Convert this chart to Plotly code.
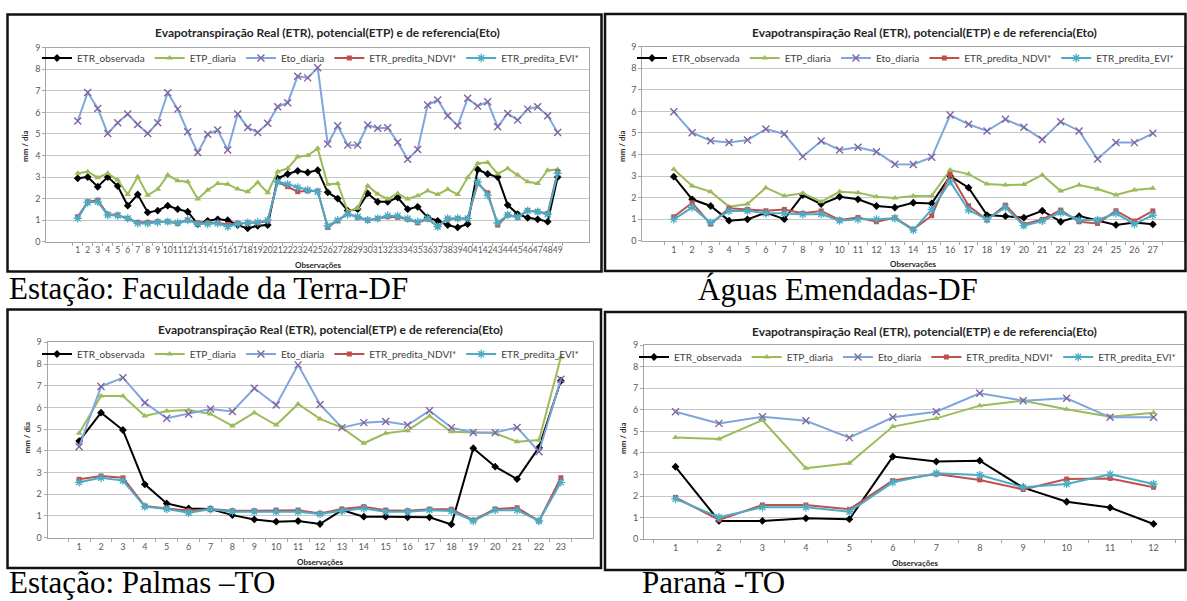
import plotly.graph_objects as go

# ---------------- data (mm/dia) ----------------
series_names = ["ETR_observada", "ETP_diaria", "Eto_diaria", "ETR_predita_NDVI*", "ETR_predita_EVI*"]

# Estação: Faculdade da Terra-DF (49 observações)
fdt_etr_obs = [2.94, 3.0, 2.55, 3.0, 2.58, 1.67, 2.19, 1.36, 1.44, 1.67, 1.51, 1.39, 0.82, 0.97, 1.04, 1.0, 0.77, 0.62, 0.74, 0.77,
               2.94, 3.14, 3.29, 3.21, 3.32, 2.29, 2.0, 1.44, 1.51, 2.24, 1.85, 1.85, 2.05, 1.51, 1.62, 1.13, 0.97, 0.77, 0.66, 0.82,
               3.35, 3.14, 3.0, 1.7, 1.28, 1.11, 1.04, 0.93, 3.0]
fdt_etp = [3.17, 3.25, 2.97, 3.17, 2.86, 2.19, 3.01, 2.16, 2.43, 3.09, 2.83, 2.78, 1.98, 2.40, 2.70, 2.67, 2.44, 2.32, 2.75, 2.27,
           3.25, 3.40, 3.94, 4.00, 4.33, 2.66, 2.70, 1.42, 1.55, 2.60, 2.21, 1.98, 2.24, 1.98, 2.13, 2.36, 2.19, 2.43, 2.19, 2.98,
           3.63, 3.68, 3.14, 3.40, 3.09, 2.78, 2.70, 3.32, 3.35]
fdt_eto = [5.60, 6.92, 6.18, 5.02, 5.52, 5.92, 5.44, 5.02, 5.52, 6.91, 6.15, 5.10, 4.14, 4.98, 5.18, 4.25, 5.92, 5.30, 5.07, 5.49,
           6.26, 6.45, 7.68, 7.60, 8.07, 4.53, 5.38, 4.48, 4.48, 5.41, 5.26, 5.29, 4.61, 3.82, 4.28, 6.34, 6.57, 5.84, 5.38, 6.65,
           6.29, 6.49, 5.33, 5.95, 5.64, 6.15, 6.26, 5.84, 5.07]
fdt_ndvi = [1.16, 1.85, 1.93, 1.27, 1.24, 1.08, 0.90, 0.90, 0.93, 0.93, 0.85, 1.0, 0.88, 0.88, 0.88, 0.80, 0.85, 0.88, 0.88, 0.96,
            2.78, 2.55, 2.32, 2.36, 2.35, 0.66, 0.97, 1.31, 1.13, 1.0, 1.07, 1.16, 1.13, 1.04, 0.88, 1.05, 0.70, 1.05, 1.08, 1.08,
            2.70, 2.27, 0.77, 1.24, 1.13, 1.44, 1.39, 1.31, 3.25]
fdt_evi = [1.08, 1.82, 1.85, 1.24, 1.21, 1.08, 0.85, 0.85, 0.90, 0.93, 0.88, 1.0, 0.82, 0.82, 0.85, 0.70, 0.82, 0.88, 0.90, 1.0,
           2.78, 2.67, 2.52, 2.40, 2.32, 0.73, 1.0, 1.27, 1.16, 1.0, 1.08, 1.21, 1.19, 1.07, 0.93, 1.08, 0.70, 1.08, 1.08, 1.08,
           2.78, 2.16, 0.88, 1.24, 1.16, 1.44, 1.39, 1.27, 3.17]

# Águas Emendadas-DF (27 observações)
ae_etr_obs = [2.97, 1.92, 1.61, 0.93, 0.99, 1.30, 1.0, 2.12, 1.70, 2.04, 1.92, 1.61, 1.54, 1.76, 1.73, 3.0, 2.46, 1.19, 1.14, 1.07,
              1.39, 0.88, 1.14, 0.93, 0.73, 0.84, 0.76]
ae_etp = [3.31, 2.54, 2.27, 1.58, 1.70, 2.46, 2.07, 2.20, 1.81, 2.27, 2.23, 2.04, 1.98, 2.07, 2.09, 3.28, 3.09, 2.63, 2.58, 2.61,
          3.05, 2.30, 2.58, 2.40, 2.12, 2.35, 2.43]
ae_eto = [5.98, 5.01, 4.64, 4.56, 4.67, 5.18, 4.95, 3.90, 4.62, 4.21, 4.33, 4.13, 3.55, 3.54, 3.87, 5.83, 5.40, 5.09, 5.63, 5.26,
          4.70, 5.52, 5.09, 3.79, 4.56, 4.55, 4.98]
ae_ndvi = [1.11, 1.76, 0.77, 1.50, 1.45, 1.39, 1.45, 1.27, 1.38, 0.96, 1.08, 0.88, 1.06, 0.53, 1.16, 3.09, 1.62, 0.96, 1.65, 0.76,
           0.99, 1.42, 0.88, 0.80, 1.39, 0.91, 1.38]
ae_evi = [0.99, 1.55, 0.84, 1.38, 1.39, 1.27, 1.27, 1.22, 1.24, 0.93, 0.99, 0.99, 1.04, 0.49, 1.45, 2.74, 1.42, 0.99, 1.55, 0.70,
          0.91, 1.31, 0.96, 0.96, 1.27, 0.77, 1.19]

# Estação: Palmas -TO (23 observações)
pal_etr_obs = [4.45, 5.76, 4.96, 2.46, 1.58, 1.35, 1.32, 1.04, 0.84, 0.74, 0.77, 0.63, 1.27, 0.97, 0.97, 0.94, 0.94, 0.61, 4.12, 3.27,
               2.70, 4.16, 7.23]
pal_etp = [4.81, 6.53, 6.53, 5.61, 5.84, 5.88, 5.70, 5.15, 5.76, 5.19, 6.16, 5.47, 5.07, 4.35, 4.81, 4.93, 5.61, 4.88, 4.85, 4.81,
           4.42, 4.50, 8.31]
pal_eto = [4.19, 6.96, 7.37, 6.22, 5.50, 5.70, 5.93, 5.81, 6.88, 6.11, 7.96, 6.14, 5.07, 5.30, 5.35, 5.19, 5.85, 5.07, 4.85, 4.84,
           5.08, 3.96, 7.30]
pal_ndvi = [2.69, 2.84, 2.76, 1.46, 1.35, 1.24, 1.32, 1.24, 1.24, 1.27, 1.27, 1.12, 1.32, 1.43, 1.27, 1.24, 1.31, 1.31, 0.81, 1.32,
            1.38, 0.77, 2.76]
pal_evi = [2.55, 2.76, 2.63, 1.43, 1.32, 1.15, 1.31, 1.20, 1.20, 1.20, 1.20, 1.09, 1.24, 1.35, 1.20, 1.20, 1.27, 1.23, 0.77, 1.27,
           1.27, 0.77, 2.55]

# Paranã -TO (12 observações)
par_etr_obs = [3.36, 0.85, 0.85, 0.97, 0.93, 3.83, 3.60, 3.64, 2.39, 1.74, 1.47, 0.71]
par_etp = [4.72, 4.65, 5.52, 3.29, 3.52, 5.22, 5.60, 6.19, 6.42, 6.02, 5.68, 5.86]
par_eto = [5.91, 5.37, 5.68, 5.49, 4.71, 5.65, 5.91, 6.76, 6.42, 6.53, 5.65, 5.65]
par_ndvi = [1.94, 0.90, 1.59, 1.59, 1.39, 2.72, 3.02, 2.75, 2.31, 2.79, 2.82, 2.41]
par_evi = [1.87, 1.02, 1.48, 1.48, 1.28, 2.64, 3.06, 2.98, 2.41, 2.56, 3.01, 2.56]

captions = ["Estação: Faculdade da Terra-DF", "Águas Emendadas-DF", "Estação: Palmas –TO", "Paranã -TO"]
chart_title = "Evapotranspiração Real (ETR), potencial(ETP) e de referencia(Eto)"

stations = [
    [fdt_etr_obs, fdt_etp, fdt_eto, fdt_ndvi, fdt_evi],
    [ae_etr_obs, ae_etp, ae_eto, ae_ndvi, ae_evi],
    [pal_etr_obs, pal_etp, pal_eto, pal_ndvi, pal_evi],
    [par_etr_obs, par_etp, par_eto, par_ndvi, par_evi],
]

# ---------------- styling ----------------
W, H = 1187, 601
FONT = "Lato"
SERIF = "Liberation Serif, Times New Roman, DejaVu Serif, serif"


def fx(p):
    return p / W


def fy(p):
    return 1 - p / H


line_styles = [
    dict(line=dict(color="#000000", width=2), marker=dict(symbol="diamond", size=6, color="#000000")),
    dict(line=dict(color="#9BBB59", width=2), marker=dict(symbol="triangle-up", size=6, color="#9BBB59")),
    dict(line=dict(color="#7EA6DC", width=2),
         marker=dict(symbol="x-thin-open", size=7, color="#8064A2", line=dict(color="#8064A2", width=1.4))),
    dict(line=dict(color="#C0504D", width=2), marker=dict(symbol="square", size=5, color="#C0504D")),
    dict(line=dict(color="#4BACC6", width=2),
         marker=dict(symbol="asterisk-open", size=7, color="#4BACC6", line=dict(color="#4BACC6", width=1.3))),
]

# panel geometry in pixels: plot area (x0, x1, y_top(=9), y_bottom(=0)), frame, title, legend, labels, caption
panels = [
    dict(plot=(46.2, 589.2, 47.7, 241.7), frame=(7.5, 601.5, 14.5, 271.5), title=(327, 33), legend=(37, 58),
         ylab=(25, 146), xlab=(318, 265), cap=(8, 288), tick=8.5),
    dict(plot=(642.3, 1184.3, 46.7, 240.7), frame=(605, 1185.5, 14, 271), title=(924, 33), legend=(632, 58),
         ylab=(622, 146), xlab=(913, 264), cap=(697, 289), tick=9),
    dict(plot=(47.5, 592.5, 342.3, 537.7), frame=(7.5, 601, 309.5, 568), title=(330, 329), legend=(37, 354),
         ylab=(26.5, 438), xlab=(320, 562), cap=(8, 582), tick=9),
    dict(plot=(644.1, 1185.0, 345.0, 539.3), frame=(605, 1185.5, 312, 570), title=(924, 331), legend=(634, 357),
         ylab=(623, 438), xlab=(915, 563), cap=(641, 582), tick=9),
]

fig = go.Figure()
layout = dict(
    width=W, height=H, margin=dict(l=0, r=0, t=0, b=0, pad=0, autoexpand=False),
    paper_bgcolor="white", plot_bgcolor="white",
    font=dict(family=FONT, color="#404040"),
)
annotations = []
shapes = []

for i, (vals, pnl) in enumerate(zip(stations, panels)):
    k = "" if i == 0 else str(i + 1)
    leg = "legend" + k
    n = len(vals[0])
    obs = [str(j) for j in range(1, n + 1)]
    for name, y, st in zip(series_names, vals, line_styles):
        fig.add_trace(go.Scatter(x=obs, y=y, name=name, mode="lines+markers",
                                 line=st["line"], marker=st["marker"],
                                 xaxis="x" + k, yaxis="y" + k, legend=leg, cliponaxis=False))

    x0, x1, yt, yb = pnl["plot"]
    layout["xaxis" + k] = dict(
        domain=[fx(x0), fx(x1)], anchor="y" + k, type="category", tickson="boundaries",
        tickmode="array", tickvals=obs, ticktext=obs,
        ticks="outside", ticklen=3, tickcolor="#A6A6A6", showgrid=False,
        showline=True, linecolor="#A6A6A6", linewidth=1, mirror=True,
        tickfont=dict(size=pnl["tick"], color="#595959", family=FONT), tickangle=0, fixedrange=True,
    )
    layout["yaxis" + k] = dict(
        domain=[fy(yb), fy(yt)], anchor="x" + k, range=[0, 9], dtick=1,
        ticks="outside", ticklen=3, tickcolor="#A6A6A6",
        showgrid=True, gridcolor="#C6C6C6", gridwidth=1, zeroline=False,
        showline=True, linecolor="#A6A6A6", linewidth=1, mirror=True,
        tickfont=dict(size=9, color="#595959", family=FONT), fixedrange=True,
    )
    lx, ly = pnl["legend"]
    layout[leg] = dict(
        orientation="h", x=fx(lx), y=fy(ly), xanchor="left", yanchor="middle",
        xref="paper", yref="paper", bgcolor="rgba(0,0,0,0)", borderwidth=0,
        font=dict(size=10, color="#404040", family=FONT), itemwidth=30,
        tracegroupgap=0,
    )

    # frame around each chart
    fx0, fx1, fy0, fy1 = pnl["frame"]
    shapes.append(dict(type="rect", xref="paper", yref="paper", x0=fx(fx0), x1=fx(fx1), y0=fy(fy1), y1=fy(fy0),
                       line=dict(color="#111111", width=2.5), fillcolor="rgba(0,0,0,0)", layer="above"))

    tx, ty = pnl["title"]
    annotations.append(dict(text="<b>" + chart_title + "</b>", x=fx(tx), y=fy(ty), xref="paper", yref="paper",
                            showarrow=False, xanchor="center", yanchor="middle",
                            font=dict(size=12, color="#262626", family=FONT)))
    ax_, ay_ = pnl["ylab"]
    annotations.append(dict(text="<b>mm / dia</b>", x=fx(ax_), y=fy(ay_), xref="paper", yref="paper",
                            showarrow=False, textangle=-90, xanchor="center", yanchor="middle",
                            font=dict(size=8, color="#262626", family=FONT)))
    bx, by = pnl["xlab"]
    annotations.append(dict(text="<b>Observações</b>", x=fx(bx), y=fy(by), xref="paper", yref="paper",
                            showarrow=False, xanchor="center", yanchor="middle",
                            font=dict(size=8, color="#262626", family=FONT)))
    cx, cy = pnl["cap"]
    annotations.append(dict(text=captions[i], x=fx(cx), y=fy(cy), xref="paper", yref="paper",
                            showarrow=False, xanchor="left", yanchor="middle", borderpad=0,
                            font=dict(size=31, color="#000000", family=SERIF)))

layout["annotations"] = annotations
layout["shapes"] = shapes
fig.update_layout(**layout)
fig.write_html("out.html")
